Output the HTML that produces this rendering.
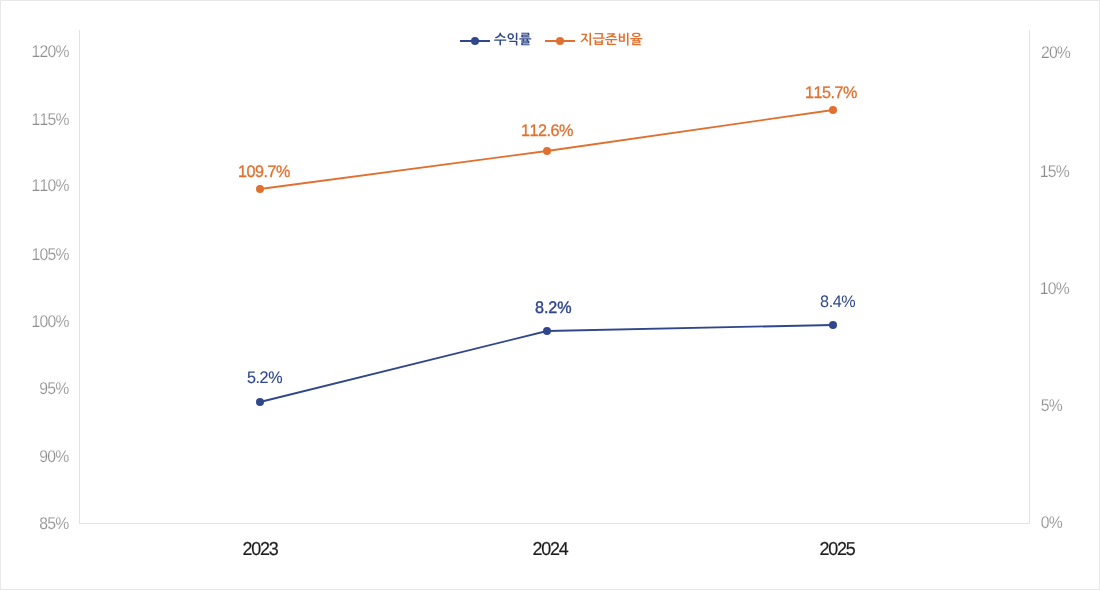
<!DOCTYPE html>
<html lang="ko">
<head>
<meta charset="utf-8">
<title>수익률 / 지급준비율</title>
<style>
html,body{margin:0;padding:0;background:#fff;}
body{width:1100px;height:590px;position:relative;overflow:hidden;font-family:"Liberation Sans",sans-serif;}
.frame{position:absolute;left:0;top:0;width:1098px;height:588px;border:1px solid #e8e8e8;background:#fff;}
svg.chart{position:absolute;left:0;top:0;width:1100px;height:590px;display:block;}
.labels{position:absolute;left:0;top:0;width:1100px;height:590px;opacity:0.999;will-change:opacity;}
.t{position:absolute;left:0;top:0;white-space:nowrap;line-height:21px;margin:0;padding:0;font-family:"Liberation Sans",sans-serif;transform-origin:0 0;font-kerning:none;font-variant-ligatures:none;text-rendering:geometricPrecision;}
.ax{font-size:17.0px;color:#8d8d8d;letter-spacing:-0.84px;-webkit-text-stroke:0.2px #fff;}
.yr{font-size:18.7px;color:#1c1c1c;letter-spacing:-1.34px;-webkit-text-stroke:0.2px #1c1c1c;}
.dl{font-size:16.75px;letter-spacing:-0.41px;}
.or{color:#e07030;}
.bl{color:#30478c;}
.lg{font-size:13.33px;font-weight:bold;line-height:16px;font-family:"Liberation Sans","NanumGothic","Noto Sans CJK KR",sans-serif;}
</style>
</head>
<body>
<div class="frame"></div>
<svg class="chart" width="1100" height="590" viewBox="0 0 1100 590">
  <!-- axes -->
  <g fill="#e3e3e3" shape-rendering="crispEdges">
    <rect x="79" y="30" width="1" height="494"/>
    <rect x="1029" y="30" width="1" height="494"/>
    <rect x="79" y="523" width="951" height="1"/>
  </g>
  <!-- series: 지급준비율 -->
  <g stroke="#e07030" fill="#e07030">
    <polyline points="260,189 547,151 833,110" fill="none" stroke-width="1.85" stroke-linejoin="round"/>
    <circle cx="260" cy="189" r="4" stroke="none"/>
    <circle cx="547" cy="151" r="4" stroke="none"/>
    <circle cx="833" cy="110" r="4" stroke="none"/>
  </g>
  <!-- series: 수익률 -->
  <g stroke="#30478c" fill="#30478c">
    <polyline points="260,402 547,331 833,325" fill="none" stroke-width="1.85" stroke-linejoin="round"/>
    <circle cx="260" cy="402" r="4" stroke="none"/>
    <circle cx="547" cy="331" r="4" stroke="none"/>
    <circle cx="833" cy="325" r="4" stroke="none"/>
  </g>
  <!-- legend: markers -->
  <g aria-hidden="true">
    <rect x="460" y="40" width="30" height="2" fill="#30478c"/>
    <circle cx="475" cy="41" r="4" fill="#30478c"/>
  </g>
  <g aria-hidden="true">
    <rect x="545" y="40" width="30" height="2" fill="#e07030"/>
    <circle cx="560" cy="41" r="4" fill="#e07030"/>
  </g>
</svg>
<div class="labels">
<div class="t lg bl" style="transform:translate(494px,32px);">수익률</div>
<div class="t lg or" style="transform:translate(580px,32px);">지급준비율</div>
<div class="t ax" id="L120" style="transform:translate(31.51px,41px) scaleX(0.925);">120%</div>
<div class="t ax" id="L115" style="transform:translate(31.51px,109px) scaleX(0.925);">115%</div>
<div class="t ax" id="L110" style="transform:translate(31.51px,175px) scaleX(0.925);">110%</div>
<div class="t ax" id="L105" style="transform:translate(31.51px,244px) scaleX(0.925);">105%</div>
<div class="t ax" id="L100" style="transform:translate(31.51px,311px) scaleX(0.925);">100%</div>
<div class="t ax" id="L95" style="transform:translate(39.29px,378px) scaleX(0.925);">95%</div>
<div class="t ax" id="L90" style="transform:translate(39.29px,446px) scaleX(0.925);">90%</div>
<div class="t ax" id="L85" style="transform:translate(39.28px,513px) scaleX(0.925);">85%</div>
<div class="t ax" id="R20" style="transform:translate(1040.91px,42px) scaleX(0.925);">20%</div>
<div class="t ax" id="R15" style="transform:translate(1039.80px,161px) scaleX(0.925);">15%</div>
<div class="t ax" id="R10" style="transform:translate(1039.80px,278px) scaleX(0.925);">10%</div>
<div class="t ax" id="R5" style="transform:translate(1040.68px,395px) scaleX(0.925);">5%</div>
<div class="t ax" id="R0" style="transform:translate(1040.86px,512px) scaleX(0.925);">0%</div>
<div class="t yr" id="Y2023" style="transform:translate(242.60px,538px) scaleX(0.96);">2023</div>
<div class="t yr" id="Y2024" style="transform:translate(532.62px,538px) scaleX(0.96);">2024</div>
<div class="t yr" id="Y2025" style="transform:translate(819.57px,538px) scaleX(0.96);">2025</div>
<div class="t dl or" id="o1" style="transform:translate(238.02px,161px) scaleX(0.965);letter-spacing:-0.52px;-webkit-text-stroke:0.3px currentColor;">109.7%</div>
<div class="t dl or" id="o2" style="transform:translate(521.02px,120px) scaleX(0.965);letter-spacing:-0.52px;-webkit-text-stroke:0.3px currentColor;">112.6%</div>
<div class="t dl or" id="o3" style="transform:translate(805.03px,82px) scaleX(0.965);letter-spacing:-0.52px;-webkit-text-stroke:0.3px currentColor;">115.7%</div>
<div class="t dl bl" id="b1" style="transform:translate(246.92px,367px) scaleX(0.965);-webkit-text-stroke:0.15px currentColor;">5.2%</div>
<div class="t dl bl" id="b2" style="transform:translate(535.07px,297px) scaleX(0.965);letter-spacing:-0.12px;-webkit-text-stroke:0.4px currentColor;">8.2%</div>
<div class="t dl bl" id="b3" style="transform:translate(820.05px,291px) scaleX(0.965);">8.4%</div>
</div>
</body>
</html>
